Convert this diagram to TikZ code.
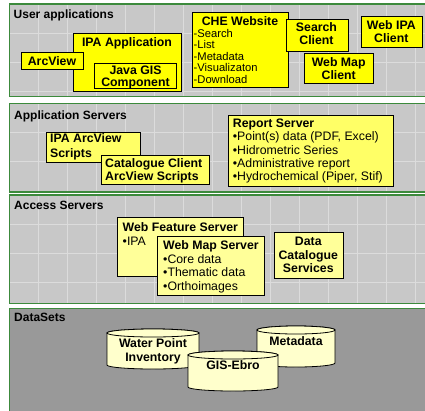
\documentclass[tikz,border=0pt]{standalone}
\usepackage{fontspec}
\setmainfont{Liberation Sans}
\definecolor{pgreen}{HTML}{3C8A3C}
\definecolor{pgray}{HTML}{C8C8C8}
\definecolor{pgrid}{HTML}{DCDCDC}
\definecolor{pdark}{HTML}{999999}
\definecolor{yA}{HTML}{FFFF00}
\definecolor{yB}{HTML}{FFFF66}
\definecolor{yC}{HTML}{FFFF99}
\definecolor{yD}{HTML}{FFFFCC}
\newcommand\ltab[1]{\begin{tabular}[t]{@{}l@{}}#1\end{tabular}}
\newcommand\ctab[1]{\begin{tabular}[t]{@{}c@{}}#1\end{tabular}}
\newcommand\mybox[6]{\node[box,fill=#2,minimum width={(#5-#3)*1pt},minimum height={(#6-#4)*1pt}] (#1) at (#3,#4) {};}
\newcommand\mycyl[5]{%
  \path[cyl] (#2,{#3+4}) -- (#2,{#5-4}) arc[start angle=180,end angle=360,x radius={(#4-#2)/2*1pt},y radius=4pt]
    -- (#4,{#3+4}) arc[start angle=0,end angle=180,x radius={(#4-#2)/2*1pt},y radius=4pt] -- cycle;
  \draw[cyl] ({(#2+#4)/2},{#3+4}) ellipse[x radius={(#4-#2)/2*1pt},y radius=4pt];
  \coordinate (#1) at ({(#2+#4)/2},{(#3+#5)/2});}
\begin{document}
\begin{tikzpicture}[x=1pt,y=-1pt,
  border/.style={draw=pgreen,line width=1.1pt},
  gridl/.style={draw=pgrid,line width=0.7pt},
  box/.style={draw=black,line width=0.9pt,inner sep=0pt,anchor=north west},
  cyl/.style={draw=black,line width=0.8pt,fill=yD},
  tt/.style={font=\fontsize{12}{13.5}\selectfont\bfseries,inner sep=0pt,anchor=base west},
  bt/.style={font=\fontsize{12.3}{13.5}\selectfont\bfseries,inner sep=0pt,anchor=base},
  lt/.style={font=\fontsize{12.3}{13.5}\selectfont,inner sep=0pt,anchor=base west},
  ct/.style={font=\fontsize{11.2}{11.5}\selectfont,inner sep=0pt,anchor=base west}]
\useasboundingbox (0,0) rectangle (425,410);
\clip (0,0) rectangle (425,410);
\fill[white] (0,0) rectangle (425,410);
% ---- panels
\fill[pgray] (9.5,4) rectangle (440,96.7);
\foreach \x in {38.5,67.5,...,420} \draw[gridl] (\x,4) -- (\x,96.7);
\foreach \y in {33,62,91} \draw[gridl] (9.5,\y) -- (440,\y);
\draw[border] (9.5,4) rectangle (440,96.7);
\fill[pgray] (9.5,103.5) rectangle (440,192);
\foreach \x in {38.5,67.5,...,420} \draw[gridl] (\x,103.5) -- (\x,192);
\foreach \y in {132.5,161.5} \draw[gridl] (9.5,\y) -- (440,\y);
\draw[border] (9.5,103.5) rectangle (440,192);
\fill[pgray] (9.5,195) rectangle (440,303.3);
\foreach \x in {38.5,67.5,...,420} \draw[gridl] (\x,195) -- (\x,303.3);
\foreach \y in {224,253,282} \draw[gridl] (9.5,\y) -- (440,\y);
\draw[border] (9.5,195) rectangle (440,303.3);
\fill[pdark] (9.5,308.3) rectangle (440,420);
\draw[border] (9.5,308.3) rectangle (440,420);
% ---- titles
\node[tt] (t1) at (13.5,18.7) {User applications};
\node[tt] (t2) at (14,119.5) {Application Servers};
\node[tt] (t3) at (14,209.3) {Access Servers};
\node[tt] (t4) at (14,321.7) {DataSets};
% ---- user applications
\mybox{ipaapp}{yA}{73}{33}{181}{91}
\node[bt] (ipaapp-t) at (127,46.5) {IPA Application};
\mybox{javagis}{yA}{94}{63}{176}{88}
\node[bt,font=\fontsize{12.3}{12}\selectfont\bfseries] (javagis-t) at (135.5,74.7) {\ctab{Java GIS\\Component}};
\mybox{arcview}{yA}{21}{52}{83}{69}
\node[bt] (arcview-t) at (52,65) {ArcView};
\mybox{che}{yA}{192}{12}{288}{87}
\node[bt] (che-t) at (240,25) {CHE Website};
\node[ct] (che-l) at (193.5,37.3) {\ltab{-Search\\-List\\-Metadata\\-Visualizaton\\-Download}};
\mybox{search}{yA}{286}{19}{348}{51}
\node[bt] (search-t) at (316.5,31) {\ctab{Search\\Client}};
\mybox{webmap}{yA}{304}{53}{373}{83}
\node[bt] (webmap-t) at (338.7,66) {\ctab{Web Map\\Client}};
\mybox{webipa}{yA}{361}{16}{422}{47}
\node[bt] (webipa-t) at (391.3,29.3) {\ctab{Web IPA\\Client}};
% ---- application servers
\mybox{ipaavs}{yB}{46}{132}{140}{162}
\node[lt,font=\fontsize{12.3}{14.5}\selectfont\bfseries] (ipaavs-t) at (50,142.7) {\ltab{IPA ArcView\\Scripts}};
\mybox{catcl}{yB}{101}{155}{209}{184}
\node[lt,font=\fontsize{12.3}{13}\selectfont\bfseries] (catcl-t) at (105,167.7) {\ltab{Catalogue Client\\ArcView Scripts}};
\mybox{report}{yB}{228}{115}{393}{186}
\node[lt,font=\fontsize{12.3}{13.3}\selectfont] (report-t) at (232.7,127.5) {\ltab{\textbf{Report Server}\\•Point(s) data (PDF, Excel)\\•Hidrometric Series\\•Administrative report\\•Hydrochemical (Piper, Stif)}};
% ---- access servers
\mybox{wfs}{yC}{117}{217}{243}{276}
\node[lt,font=\fontsize{12.3}{14.5}\selectfont] (wfs-t) at (122.5,231) {\ltab{\textbf{Web Feature Server}\\•IPA}};
\mybox{wms}{yC}{157}{236}{264}{295}
\node[lt,font=\fontsize{12.3}{13.5}\selectfont] (wms-t) at (163,249.7) {\ltab{\textbf{Web Map Server}\\•Core data\\•Thematic data\\•Orthoimages}};
\mybox{dcs}{yC}{274}{232}{343}{278}
\node[bt] (dcs-t) at (308.3,245.7) {\ctab{Data\\Catalogue\\Services}};
% ---- datasets
\mycyl{wpi}{107}{329}{199}{369}
\node[bt] (wpi-t) at (153,347.5) {\ctab{Water Point\\Inventory}};
\mycyl{meta}{257}{326}{335}{367}
\node[bt] (meta-t) at (296,345) {Metadata};
\mycyl{gis}{188}{351}{278}{391}
\node[bt] (gis-t) at (233,369.5) {GIS-Ebro};
\end{tikzpicture}
\end{document}
